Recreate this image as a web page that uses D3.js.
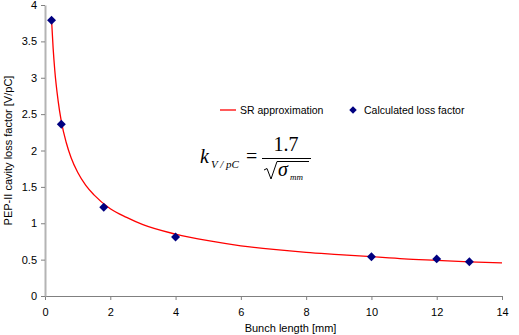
<!DOCTYPE html>
<html>
<head>
<meta charset="utf-8">
<script src="https://cdn.jsdelivr.net/npm/d3@7"></script>
<style>
  body { margin: 0; background: #fff; }
  svg { font-family: "Liberation Sans", Arial, sans-serif; }
  .tick text { font-size: 11px; fill: #000; }
</style>
</head>
<body>
<svg id="chart" width="519" height="335"></svg>
<script>
// measured loss factor points
var bunchLen = [0.2, 0.5, 1.8, 4, 10, 12, 13];
var lossFactor = [3.79, 2.36, 1.22, 0.81, 0.54, 0.51, 0.47];

// SR approximation curve
var srLen = [0.2, 0.25, 0.3, 0.4, 0.5, 0.65, 0.8, 1, 1.25, 1.5, 2, 2.5, 3, 4, 5, 6, 7, 8, 9, 10, 11, 12, 13, 14];
var srVal = [3.8, 3.4, 3.1, 2.69, 2.4, 2.11, 1.9, 1.7, 1.52, 1.39, 1.2, 1.08, 0.98, 0.85, 0.76, 0.69, 0.64, 0.6, 0.57, 0.54, 0.51, 0.49, 0.47, 0.455];

var xTicks = [0, 2, 4, 6, 8, 10, 12, 14];
var yTicks = [0, 0.5, 1, 1.5, 2, 2.5, 3, 3.5, 4];

var svg = d3.select("#chart"),
	margin = {top: 5, left: 45, bottom: 39, right: 17},
	width = +svg.attr("width"),
	height = +svg.attr("height");

var x = d3.scaleLinear()
	.domain([0, 14])
	.range([margin.left, width - margin.right]);

var y = d3.scaleLinear()
	.domain([0, 4])
	.range([height - margin.bottom, margin.top]);

var xAxis = svg.append("g")
	.attr("class", "x-axis")
	.attr("transform", `translate(0,${height - margin.bottom})`)
	.call(d3.axisBottom(x).tickValues(xTicks).tickSize(4).tickSizeOuter(0).tickPadding(8).tickFormat(d3.format("d")));
xAxis.select(".domain").attr("stroke", "#808080");
xAxis.selectAll(".tick line").attr("stroke", "#808080");

var yAxis = svg.append("g")
	.attr("class", "y-axis")
	.attr("transform", `translate(${margin.left},0)`)
	.call(d3.axisLeft(y).tickValues(yTicks).tickSize(4).tickSizeOuter(0).tickPadding(4).tickFormat(d => d));
yAxis.select(".domain").attr("stroke", "#b4b4b4").attr("stroke-width", 2);
yAxis.selectAll(".tick line").attr("stroke", "#808080");

// curve
var line = d3.line()
	.x((d, i) => x(srLen[i]))
	.y(d => y(d))
	.curve(d3.curveMonotoneX);

svg.append("path")
	.datum(srVal)
	.attr("fill", "none")
	.attr("stroke", "#ff0000")
	.attr("stroke-width", 1.3)
	.attr("d", line);

// diamonds
var diamond = d3.symbol().type(d3.symbolSquare).size(40);
svg.selectAll(".pt")
	.data(lossFactor)
	.enter().append("path")
	.attr("class", "pt")
	.attr("d", diamond)
	.attr("fill", "#000080")
	.attr("transform", (d, i) => `translate(${x(bunchLen[i])},${y(d)}) rotate(45)`);

// axis titles
svg.append("text")
	.attr("x", (margin.left + width - margin.right) / 2 + 17)
	.attr("y", 332)
	.attr("text-anchor", "middle")
	.style("font-size", "11px")
	.text("Bunch length [mm]");

svg.append("text")
	.attr("transform", `translate(12,${(margin.top + height - margin.bottom) / 2}) rotate(-90)`)
	.attr("text-anchor", "middle")
	.style("font-size", "11px")
	.text("PEP-II cavity loss factor [V/pC]");

// legend
var leg = svg.append("g").attr("transform", "translate(220,110)");
leg.append("line")
	.attr("x1", 0).attr("x2", 16).attr("y1", 0).attr("y2", 0)
	.attr("stroke", "#ff0000").attr("stroke-width", 1.3);
leg.append("text").attr("x", 20).attr("y", 4).style("font-size", "10.5px").text("SR approximation");
leg.append("path").attr("d", d3.symbol().type(d3.symbolSquare).size(28))
	.attr("fill", "#000080")
	.attr("transform", "translate(133,0) rotate(45)");
leg.append("text").attr("x", 144).attr("y", 4).style("font-size", "10.5px").text("Calculated loss factor");

// formula
var f = svg.append("g").style("font-family", "'Liberation Serif', 'Times New Roman', serif");
f.append("text").attr("x", 200).attr("y", 163).style("font-size", "20px").style("font-style", "italic").text("k");
f.append("text").attr("x", 211).attr("y", 168).style("font-size", "11px").style("font-style", "italic").text("V / pC");
f.append("text").attr("x", 246).attr("y", 163).style("font-size", "20px").text("=");
f.append("text").attr("x", 286).attr("y", 151).attr("text-anchor", "middle").style("font-size", "20px").text("1.7");
f.append("line").attr("x1", 262).attr("x2", 311).attr("y1", 158.5).attr("y2", 158.5).attr("stroke", "#000").attr("stroke-width", 1);
f.append("path")
	.attr("d", "M264,170 L267,168.5 L271,179 L277,161.5 L309,161.5")
	.attr("fill", "none").attr("stroke", "#000").attr("stroke-width", 1);
f.append("text").attr("x", 278).attr("y", 176).style("font-size", "20px").style("font-style", "italic").text("σ");
f.append("text").attr("x", 290).attr("y", 180).style("font-size", "9px").style("font-style", "italic").text("mm");
</script>
</body>
</html>
